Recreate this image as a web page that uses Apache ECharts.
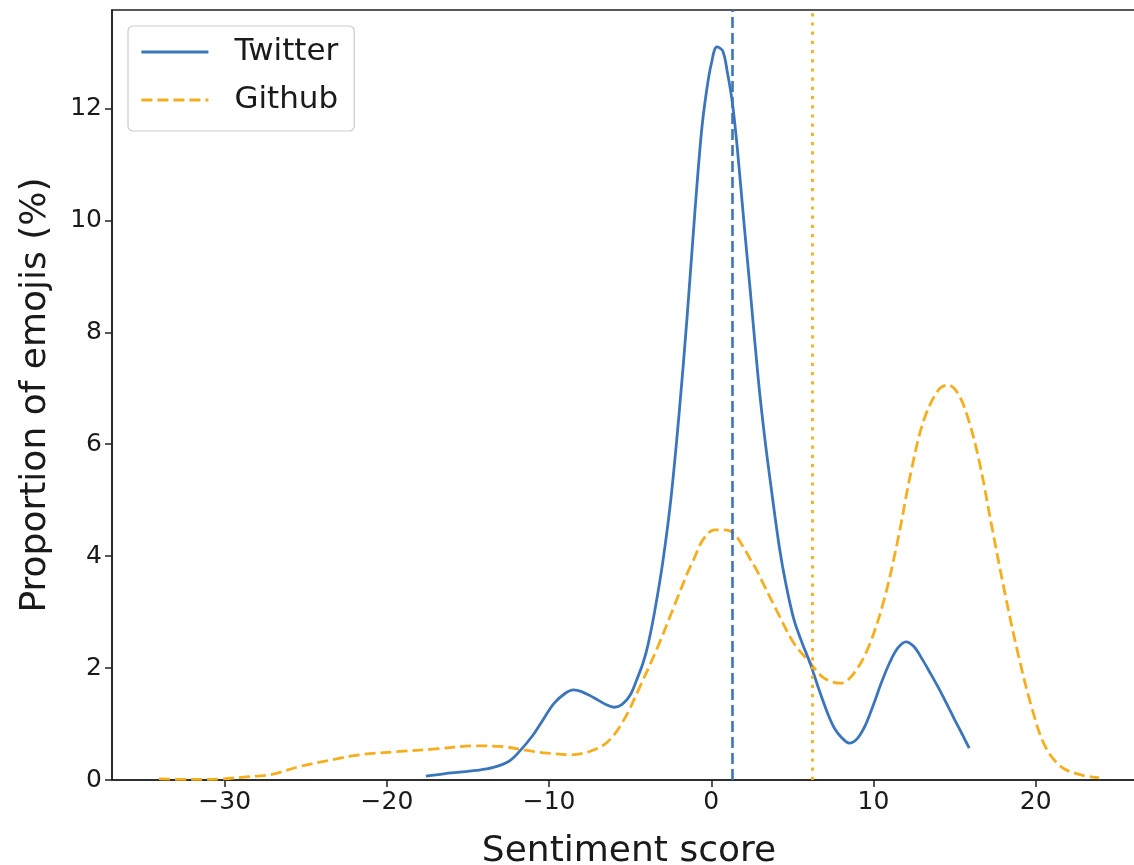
<!DOCTYPE html>
<html><head><meta charset="utf-8">
<script src="https://cdn.jsdelivr.net/npm/echarts@6/dist/echarts.min.js"></script>
<style>html,body{margin:0;padding:0;background:#fff}#c{width:1134px;height:865px}</style>
</head><body><div id="c"></div>
<script>
const twitterX = [-17.6,-16.5,-15.5,-14.5,-13.5,-12.5,-11.8,-11,-10.5,-9.7,-9,-8.5,-8,-7.3,-6.5,-6.0,-5.5,-5.0,-4.6,-4.2,-3.9,-3.5,-3.0,-2.5,-2.0,-1.5,-1.0,-0.6,-0.3,0,0.35,0.7,1.0,1.3,1.6,2.0,2.4,2.9,3.3,3.7,4.2,4.6,5.1,5.6,6.1,6.6,7.2,7.6,8.0,8.5,9.0,9.5,10.0,10.5,11.0,11.5,12.0,12.5,13.0,13.5,14.0,14.5,15.0,15.5,15.9];
const twitterY = [0.07,0.11,0.14,0.17,0.22,0.33,0.52,0.80,1.02,1.37,1.55,1.61,1.58,1.48,1.35,1.30,1.35,1.52,1.79,2.1,2.42,3.0,3.88,5.0,6.5,8.25,10.2,11.6,12.3,12.8,13.1,13.03,12.63,12.1,11.3,10.0,8.75,7.15,6.1,5.2,4.15,3.5,2.86,2.45,2.08,1.65,1.17,0.92,0.77,0.66,0.74,0.98,1.35,1.75,2.1,2.36,2.47,2.38,2.16,1.91,1.65,1.37,1.08,0.8,0.57];
const githubX = [-34.05,-32,-30.2,-28.5,-27.1,-25.4,-23.4,-21.7,-19.2,-17.2,-14.5,-13.0,-11.0,-10.1,-8.7,-7.5,-6.4,-5.4,-4.4,-3.3,-2.3,-1.47,-1.1,-0.5,0.2,0.8,1.4,2.0,2.43,2.8,3.05,4.08,5.1,6.14,6.95,8.0,8.8,9.7,10.65,11.5,12.3,13.1,14.0,14.6,15.2,15.8,16.5,17.3,18.1,18.9,19.75,20.6,21.6,22.8,23.9];
const githubY = [0.02,0.01,0.02,0.06,0.10,0.24,0.36,0.45,0.51,0.55,0.61,0.60,0.51,0.48,0.45,0.51,0.68,1.07,1.67,2.38,3.1,3.7,3.93,4.3,4.47,4.47,4.4,4.15,3.93,3.75,3.6,3.0,2.44,2.08,1.82,1.73,1.91,2.38,3.22,4.29,5.49,6.43,6.97,7.06,6.91,6.49,5.72,4.52,3.34,2.27,1.3,0.59,0.23,0.09,0.04];
const xTicks = [-30,-20,-10,0,10,20];
const yTicks = [0,2,4,6,8,10,12];
const twitterMean = 1.31;
const githubMean = 6.2;
const seriesNames = ['Twitter','Github'];

const BLUE = '#3b76bd', ORANGE = '#f6ae1c', INK = '#1a1a1a';
const FONT = 'DejaVu Sans';
const zip = (xs, ys) => xs.map((x, i) => [x, ys[i]]);

const chart = echarts.init(document.getElementById('c'), null, {renderer: 'canvas'});
const axisCommon = {
  type: 'value',
  axisLine: {show: true, onZero: false, lineStyle: {color: '#222', width: 1.6}},
  axisTick: {show: true, length: 7, lineStyle: {color: '#222', width: 1.5}},
  splitLine: {show: false},
  nameTextStyle: {fontFamily: FONT, fontSize: 36, color: INK},
};
chart.setOption({
  animation: false,
  backgroundColor: '#fff',
  grid: {left: 112, top: 10, right: -12, bottom: 85, show: true, borderColor: '#222', borderWidth: 1.6,
    containLabel: false, outerBoundsMode: 'none'},
  legend: {
    orient: 'vertical', left: 128, top: 26,
    data: seriesNames,
    itemWidth: 67, itemHeight: 14, itemGap: 12,
    padding: [8, 16, 13, 12],
    backgroundColor: 'rgba(255,255,255,0.8)',
    borderColor: '#cccccc', borderWidth: 1.2, borderRadius: 5,
    itemStyle: {opacity: 0},
    lineStyle: {width: 2.8},
    textStyle: {fontFamily: FONT, fontSize: 31, color: INK, lineHeight: 36, padding: [0, 0, 0, 21]},
  },
  xAxis: Object.assign({}, axisCommon, {
    min: -36.95, max: 26.8,
    name: 'Sentiment score', nameLocation: 'middle', nameGap: 54,
    axisTick: Object.assign({}, axisCommon.axisTick, {customValues: xTicks}),
    axisLabel: {customValues: xTicks, margin: 10, fontFamily: FONT, fontSize: 25, color: INK,
      formatter: v => String(v).replace('-', '\u2212')},
  }),
  yAxis: Object.assign({}, axisCommon, {
    min: 0, max: 13.76,
    name: 'Proportion of emojis (%)', nameLocation: 'middle', nameGap: 58,
    axisTick: Object.assign({}, axisCommon.axisTick, {customValues: yTicks}),
    axisLabel: {customValues: yTicks, margin: 10, fontFamily: FONT, fontSize: 25, color: INK},
  }),
  series: [
    {
      name: seriesNames[0], type: 'line', data: zip(twitterX, twitterY),
      symbol: 'none', smooth: 0.35, color: BLUE,
      lineStyle: {color: BLUE, width: 2.8},
      markLine: {silent: true, symbol: ['none', 'none'], label: {show: false},
        lineStyle: {color: BLUE, width: 2.6, type: [11, 5]},
        data: [{xAxis: twitterMean}]},
      z: 3,
    },
    {
      name: seriesNames[1], type: 'line', data: zip(githubX, githubY),
      symbol: 'none', smooth: 0.35, color: ORANGE,
      lineStyle: {color: ORANGE, width: 2.8, type: [11, 5]},
      markLine: {silent: true, symbol: ['none', 'none'], label: {show: false},
        lineStyle: {color: ORANGE, width: 2.8, type: [3.2, 6]},
        data: [{xAxis: githubMean}]},
      z: 2,
    },
  ],
});
</script>
</body></html>
